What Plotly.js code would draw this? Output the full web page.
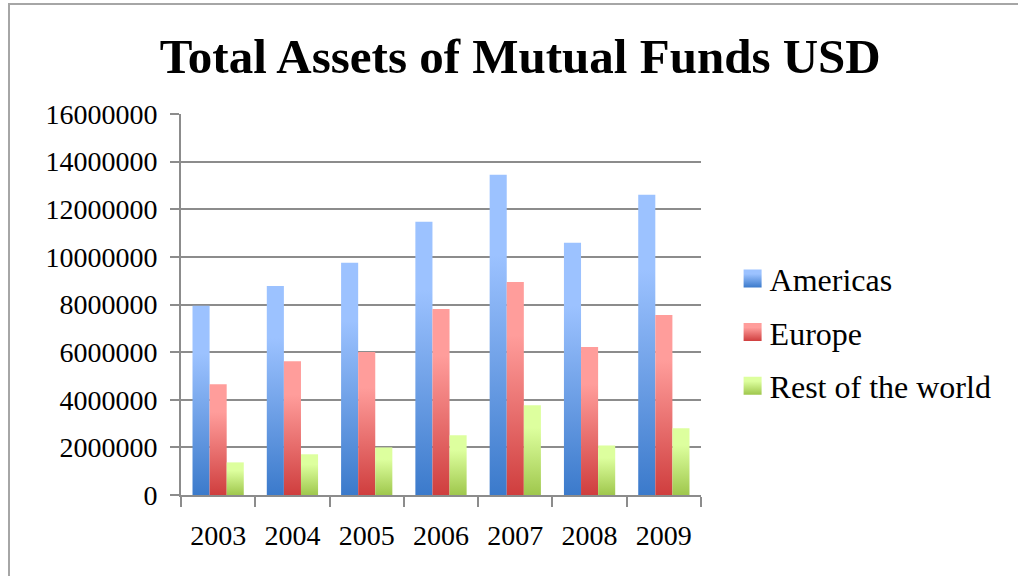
<!DOCTYPE html>
<html>
<head>
<meta charset="utf-8">
<script src="https://cdn.plot.ly/plotly-3.0.1.min.js"></script>
<style>
  html, body { margin: 0; padding: 0; background: #fff; }
  #wrap { position: relative; width: 1018px; height: 576px; overflow: hidden; }
  #chart { position: absolute; left: 0; top: 0; width: 1018px; height: 576px; }
  #frame { position: absolute; left: 8px; top: 3px; width: 1030px; height: 600px;
           border-left: 2px solid #a6a6a6; border-top: 2px solid #a6a6a6; pointer-events: none; }
</style>
</head>
<body>
<div id="wrap"><div id="chart"></div><div id="frame"></div></div>
<script>
const years = ['2003', '2004', '2005', '2006', '2007', '2008', '2009'];
const americas = [7950000, 8780000, 9750000, 11470000, 13450000, 10590000, 12610000];
const europe = [4650000, 5620000, 6010000, 7810000, 8950000, 6210000, 7560000];
const restOfWorld = [1370000, 1710000, 2000000, 2510000, 3770000, 2080000, 2800000];
const seriesNames = ['Americas', 'Europe', 'Rest of the world'];
const tickVals = [0, 2000000, 4000000, 6000000, 8000000, 10000000, 12000000, 14000000, 16000000];

const solid = ['#6b9ce6', '#e87070', '#c2e67a'];
const grads = [['#9cc2ff', '#3b7acb'], ['#ff9d9b', '#cf3e3e'], ['#ddff9e', '#9fc74d']];
const font = 'Liberation Serif, Times New Roman, serif';

const data = [americas, europe, restOfWorld].map((vals, i) => ({
  type: 'bar', x: years, y: vals, name: seriesNames[i], legendgroup: 'g' + i,
  marker: { color: solid[i], line: { width: 0 } }, hoverinfo: 'x+y+name'
}));

const layout = {
  width: 1018, height: 576,
  margin: { l: 181, r: 317, t: 114, b: 81 },
  paper_bgcolor: '#fff', plot_bgcolor: '#fff',
  font: { family: font, color: '#000', size: 28 },
  title: { text: 'Total Assets of Mutual Funds USD', xref: 'container', yref: 'container',
           x: 0.511, xanchor: 'center', y: 0.903, yanchor: 'middle',
           font: { family: font, size: 49, weight: 'bold', color: '#000' } },
  barmode: 'group', bargap: 0.31, bargroupgap: 0,
  xaxis: { type: 'category', tickson: 'boundaries', ticks: 'outside', ticklen: 10, tickwidth: 2,
           tickcolor: '#8c8c8c', showline: true, linecolor: '#8c8c8c', linewidth: 2,
           showgrid: false, ticklabelstandoff: 14, tickfont: { size: 28, family: font } },
  yaxis: { range: [0, 16000000], tickvals: tickVals, ticktext: tickVals.map(v => String(v)),
           ticks: 'outside', ticklen: 9, tickwidth: 2, tickcolor: '#8c8c8c',
           showline: true, linecolor: '#8c8c8c', linewidth: 2,
           showgrid: true, gridcolor: '#8c8c8c', gridwidth: 2, zeroline: false,
           ticklabelstandoff: 7, tickfont: { size: 28, family: font } },
  legend: { x: 1.055, xanchor: 'left', y: 0.64, yanchor: 'top', traceorder: 'grouped',
            tracegroupgap: 9, font: { family: font, size: 32, color: '#000' },
            bgcolor: 'rgba(0,0,0,0)' },
  showlegend: true
};

Plotly.newPlot('chart', data, layout, { displayModeBar: false, staticPlot: true }).then(gd => {
  const NS = 'http://www.w3.org/2000/svg';
  const svg = gd.querySelector('svg.main-svg');
  let defs = svg.querySelector('defs');
  if (!defs) { defs = document.createElementNS(NS, 'defs'); svg.insertBefore(defs, svg.firstChild); }
  grads.forEach((g, i) => {
    const lg = document.createElementNS(NS, 'linearGradient');
    lg.setAttribute('id', 'bargrad' + i);
    lg.setAttribute('x1', '0'); lg.setAttribute('y1', '0');
    lg.setAttribute('x2', '0'); lg.setAttribute('y2', '1');
    [[0, g[0]], [0.25, g[0]], [1, g[1]]].forEach(([o, c]) => {
      const s = document.createElementNS(NS, 'stop');
      s.setAttribute('offset', String(o)); s.setAttribute('stop-color', c);
      lg.appendChild(s);
    });
    defs.appendChild(lg);
  });
  gd.querySelectorAll('.barlayer .trace').forEach((tr, i) => {
    tr.querySelectorAll('path').forEach(p => { p.style.fill = 'url(#bargrad' + i + ')'; });
  });
  gd.querySelectorAll('.legend .traces').forEach((tr, i) => {
    tr.querySelectorAll('.legendpoints path').forEach(p => {
      p.style.fill = 'url(#bargrad' + i + ')';
      p.setAttribute('d', 'M9,9H-9V-9H9Z');
      p.setAttribute('transform', 'translate(23,0)');
    });
  });
});
</script>
</body>
</html>
